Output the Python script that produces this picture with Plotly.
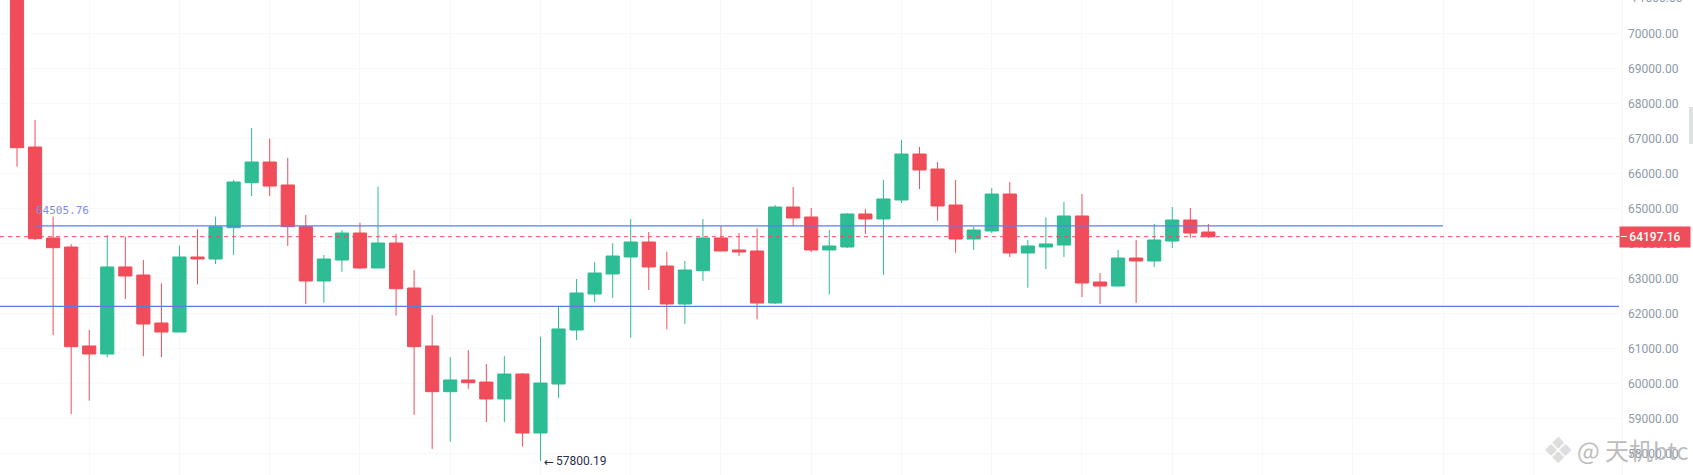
import plotly.graph_objects as go

candle_index = list(range(67))
opens = [72000,66756,64160,63903,61079,60850,63333,63104,61735,61478,63618,63561,64454,65738,66328,65672,
         64482,62933,63532,64302,63304,64017,62733,61079,59775,60109,60051,59567,60280,58596,59994,61535,
         62562,63133,63618,64046,63361,62277,63227,64160,63818,63789,62305,65044,64759,63818,63903,64845,
         64702,65244,66556,66128,65101,64131,64360,65415,63732,63903,63960,64788,62905,62790,63589,63504,
         64074,64673,64331]
closes = [66736,64140,63883,61059,60850,63333,63076,61706,61478,63618,63561,64482,65758,66328,65643,64482,
          62933,63561,64302,63304,64017,62713,61059,59775,60109,60032,59567,60280,58596,60023,61564,62591,
          63161,63646,64046,63333,62277,63247,64160,63789,63760,62305,65044,64730,63818,63932,64845,64702,
          65273,66556,66100,65073,64131,64388,65415,63732,63932,63989,64788,62876,62790,63589,63504,64103,
          64673,64302,64197.16]
highs = [72300,67526,64768,63980,61535,64246,64197,63532,62867,63940,64408,64768,65815,67298,66993,66451,
         64816,63675,64388,64596,65624,64274,63247,61963,60765,60964,60565,60793,60300,61344,62200,62990,
         63475,64009,64702,64331,63769,63504,64702,64502,64302,64437,65101,65615,65016,64388,64873,64987,
         65815,66956,66756,66328,65815,64482,65586,65758,64103,64750,65187,65415,63161,63818,64103,64559,
         65044,65016,64559]
lows = [66194,64103,61393,59139,59518,60756,62420,60785,60765,61470,62839,63418,63675,65358,65358,63932,
        62277,62314,63198,63275,63300,61943,59110,58140,58348,59860,58910,58910,58206,57800.19,59595,61250,
        62334,62448,61316,62676,61555,61706,62933,63780,63646,61841,62277,64502,63760,62542,63875,64274,
        63104,65158,65558,64654,63740,63818,64302,63618,62742,63275,63618,62477,62277,62780,62305,63333,
        63875,64160,64160]

price_ticks = [58000,59000,60000,61000,62000,63000,64000,65000,66000,67000,68000,69000,70000]
time_grid = [4,9,14,19,24,29,34,39,44,49,54,59,64,69,74,79,84]
last_price = 64197.16
upper_level = 64505.76
lower_level = 62211
low_price = 57800.19

UP = "#2DBC93"
DOWN = "#F04C59"
LABEL = "#8F99A8"
BLUE = "#5B7CF5"
GRID = "#F7F8F9"
FONT = "Roboto, Arial, sans-serif"
W, H = 1693, 475

fig = go.Figure(go.Candlestick(
    x=candle_index, open=opens, high=highs, low=lows, close=closes,
    whiskerwidth=0,
    increasing=dict(line=dict(color=UP, width=1), fillcolor=UP),
    decreasing=dict(line=dict(color=DOWN, width=1), fillcolor=DOWN),
    hoverinfo="skip",
))

shapes = [
    dict(type="line", xref="x", yref="y", x0=1, x1=79, y0=upper_level, y1=upper_level,
         line=dict(color=BLUE, width=1.2), layer="above"),
    dict(type="line", xref="paper", yref="y", x0=0, x1=1, y0=lower_level, y1=lower_level,
         line=dict(color="#5A7BE6", width=1.2), layer="above"),
    dict(type="line", xref="paper", yref="y", x0=0, x1=1, y0=last_price, y1=last_price,
         line=dict(color=DOWN, width=1, dash="4px,4px"), layer="above"),
    dict(type="line", xref="paper", yref="paper", x0=1622/1619, x1=1622/1619, y0=0, y1=1,
         line=dict(color="#F3F4F5", width=1)),
    dict(type="rect", xref="paper", yref="paper", x0=1689/1619, x1=1693/1619,
         y0=1-144/H, y1=1-107/H, fillcolor="#DDE1E2", line=dict(width=0)),
]

annotations = [
    dict(xref="x", yref="y", x=1, y=upper_level, text="64505.76", showarrow=False,
         xanchor="left", yanchor="bottom", xshift=-1, yshift=7,
         font=dict(family="DejaVu Sans Mono", size=11, color="#7C8CF0")),
    dict(xref="x", yref="y", x=29, y=low_price, text="←", showarrow=False,
         xanchor="left", yanchor="middle", xshift=2, yshift=-1,
         font=dict(family="DejaVu Sans", size=12, color="#2B2F4A")),
    dict(xref="x", yref="y", x=29, y=low_price, text="57800.19", showarrow=False,
         xanchor="left", yanchor="middle", xshift=14, yshift=0,
         font=dict(family=FONT, size=12, color="#2B2F4A")),
    dict(xref="paper", yref="paper", x=1630/1619, y=1+1.7/H, text="71000.00", showarrow=False,
         xanchor="left", yanchor="middle", font=dict(family=FONT, size=12, color=LABEL)),
    dict(xref="paper", yref="y", x=1, y=last_price, text="64197.16", showarrow=False,
         xanchor="left", yanchor="middle", align="center", width=70, height=20, borderpad=0,
         bgcolor=DOWN, font=dict(family=FONT, size=12, color="#FFFFFF", weight=500)),
    dict(xref="paper", yref="y", x=1, y=last_price, text="–", showarrow=False,
         xanchor="left", yanchor="middle", borderpad=0,
         font=dict(family=FONT, size=12, color="#FFFFFF")),
    dict(xref="paper", yref="paper", x=1540/1619, y=1-450/H, text="❖", showarrow=False,
         xanchor="left", yanchor="middle", opacity=0.45,
         font=dict(family="DejaVu Sans", size=36, color="#B5B5B5")),
    dict(xref="paper", yref="paper", x=1575/1619, y=1-449/H, text="@ 天机btc", showarrow=False,
         xanchor="left", yanchor="middle", opacity=0.75,
         font=dict(family="Noto Sans CJK SC", size=24, color="#A8A8A8")),
]

fig.update_layout(
    width=W, height=H,
    margin=dict(l=0, r=W-1619, t=0, b=0, pad=0),
    paper_bgcolor="#FFFFFF", plot_bgcolor="#FFFFFF",
    showlegend=False, boxgap=0.27, boxgroupgap=0,
    shapes=shapes, annotations=annotations,
    xaxis=dict(range=[-0.942, 88.75], rangeslider=dict(visible=False),
               tickmode="array", tickvals=time_grid, showticklabels=False,
               ticks="", showgrid=True, gridcolor=GRID, gridwidth=1, zeroline=False, showline=False),
    yaxis=dict(range=[57398, 70950], side="right", tickmode="array", tickvals=price_ticks,
               tickformat=".2f", ticks="", ticklabelstandoff=8,
               tickfont=dict(family=FONT, size=12, color=LABEL),
               showgrid=True, gridcolor=GRID, gridwidth=1, zeroline=False, showline=False),
)

fig.write_html("out.html", config=dict(displayModeBar=False),
               post_script="document.body.style.margin='0';document.documentElement.style.overflow='hidden';")
